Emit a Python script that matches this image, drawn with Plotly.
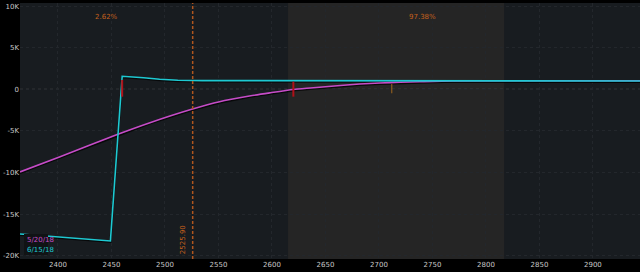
import plotly.graph_objects as go

# ---- data ----
t0_dates = ["5/20/18", "6/15/18"]
mag_x = [2364.5, 2402, 2456, 2486, 2525, 2551, 2579, 2598, 2620, 2636, 2664, 2682, 2701, 2720, 2738, 2769, 2944]
mag_y = [-9940, -8110, -5400, -4010, -2400, -1490, -810, -430, -20, 160, 460, 630, 760, 840, 910, 1010, 1030]
cyan_x = [2364.5, 2400, 2430, 2449, 2460, 2470, 2480, 2495, 2512, 2535, 2944]
cyan_y = [-17390, -17750, -18050, -18230, 1560, 1520, 1390, 1200, 1080, 1040, 1000]
current_price = 2525.90
profit_zone = [2615, 2817]
prob_labels = ["2.62%", "97.38%"]
prob_x = [2445, 2741]
red_marks_x = [2460, 2620]
red_marks_y = [[1120, -890], [910, -890]]
orange_mark_x = 2712
orange_mark_y = [640, -480]
x_ticks = [2400, 2450, 2500, 2550, 2600, 2650, 2700, 2750, 2800, 2850, 2900]
y_ticks = [10000, 5000, 0, -5000, -10000, -15000, -20000]
y_tick_text = ["10K", "5K", "0", "-5K", "-10K", "-15K", "-20K"]

X_RANGE = [2364.5, 2944]
Y_RANGE = [-20400, 10370]

ORANGE = "#c4601c"
DASH_ORANGE = "#b0561e"
CYAN = "#1ec9d2"
MAGENTA = "#c64cc8"
FONT = "DejaVu Sans"

fig = go.Figure()

# shaded region
fig.add_shape(type="rect", xref="x", yref="paper", x0=profit_zone[0], x1=profit_zone[1], y0=0, y1=1,
              fillcolor="#252525", line_width=0, layer="below")
# zero line
fig.add_shape(type="line", xref="paper", yref="y", x0=0, x1=1, y0=0, y1=0,
              line=dict(color="#4e4e4e", width=1, dash="dot"), layer="below")

# shadow lines
fig.add_trace(go.Scatter(x=mag_x, y=[v - 120 for v in mag_y], mode="lines",
                         line=dict(color="rgba(0,0,0,0.7)", width=2), showlegend=False, hoverinfo="skip"))
fig.add_trace(go.Scatter(x=cyan_x, y=[v - 120 for v in cyan_y], mode="lines",
                         line=dict(color="rgba(0,0,0,0.7)", width=2), showlegend=False, hoverinfo="skip"))

fig.add_trace(go.Scatter(x=mag_x, y=mag_y, mode="lines", name=t0_dates[0],
                         line=dict(color=MAGENTA, width=1.6, shape="spline", smoothing=0.6), showlegend=False))
fig.add_trace(go.Scatter(x=cyan_x, y=cyan_y, mode="lines", name=t0_dates[1],
                         line=dict(color=CYAN, width=1.6), showlegend=False))

# current price line
fig.add_trace(go.Scatter(x=[current_price, current_price], y=[Y_RANGE[0], Y_RANGE[1]], mode="lines",
                         line=dict(color=DASH_ORANGE, width=1.5, dash="3px,2px"), showlegend=False, hoverinfo="skip"))

# red marks
rx, ry = [], []
for xv, (a, b) in zip(red_marks_x, red_marks_y):
    rx += [xv, xv, None]
    ry += [a, b, None]
fig.add_trace(go.Scatter(x=rx, y=ry, mode="lines", line=dict(color="#b01018", width=2),
                         showlegend=False, hoverinfo="skip"))
fig.add_trace(go.Scatter(x=[orange_mark_x, orange_mark_x], y=orange_mark_y, mode="lines",
                         line=dict(color="#a0661e", width=1), showlegend=False, hoverinfo="skip"))

# probability labels
for txt, xv in zip(prob_labels, prob_x):
    fig.add_annotation(x=xv, y=8730, xref="x", yref="y", text=txt, showarrow=False,
                       font=dict(family=FONT, size=7, color=ORANGE))

# current price label
fig.add_annotation(x=2517.5, y=-18050, xref="x", yref="y", text=f"{current_price:.2f}", textangle=-90,
                   showarrow=False, font=dict(family=FONT, size=7, color=ORANGE))

# legend box
fig.add_shape(type="rect", xref="paper", yref="paper",
              x0=4 / 620, x1=28 / 620, y0=(259 - 255) / 256, y1=(259 - 234) / 256,
              fillcolor="#101315", line_width=0, layer="above")
fig.add_annotation(xref="paper", yref="paper", x=5 / 620, y=(259 - 239.5) / 256, text=t0_dates[0],
                   xanchor="left", yanchor="middle", showarrow=False,
                   font=dict(family=FONT, size=7, color=MAGENTA))
fig.add_annotation(xref="paper", yref="paper", x=5 / 620, y=(259 - 249.5) / 256, text=t0_dates[1],
                   xanchor="left", yanchor="middle", showarrow=False,
                   font=dict(family=FONT, size=7, color=CYAN))

fig.update_layout(
    width=640, height=272,
    margin=dict(l=20, r=0, t=3, b=13),
    paper_bgcolor="#000000",
    plot_bgcolor="#181c20",
    showlegend=False,
    font=dict(family=FONT, size=7, color="#c8c8c8"),
    xaxis=dict(range=X_RANGE, tickvals=x_ticks, ticktext=[str(v) for v in x_ticks],
               showgrid=True, gridcolor="#23272c", griddash="dot", gridwidth=1,
               zeroline=False, ticks="", showline=False, fixedrange=True,
               tickfont=dict(family=FONT, size=7, color="#c8c8c8")),
    yaxis=dict(range=Y_RANGE, tickvals=y_ticks, ticktext=y_tick_text,
               showgrid=True, gridcolor="#23272c", griddash="dot", gridwidth=1,
               zeroline=False, ticks="", showline=False, fixedrange=True,
               tickfont=dict(family=FONT, size=7, color="#c8c8c8")),
)

fig.write_html("out.html")
